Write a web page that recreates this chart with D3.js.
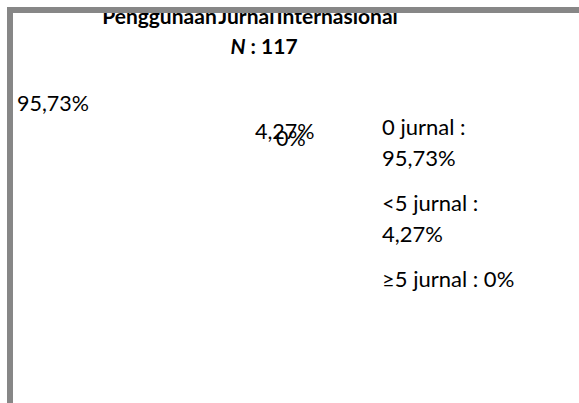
<!DOCTYPE html>
<html>
<head>
<meta charset="utf-8">
<script src="https://cdnjs.cloudflare.com/ajax/libs/d3/7.8.5/d3.min.js"></script>
<style>
  body { margin: 0; background: #fff; }
  text { font-family: Lato, "Open Sans", sans-serif; fill: #000; }
</style>
</head>
<body>
<div id="chart"></div>
<script>
// data
var categories = ["0 jurnal", "<5 jurnal", "\u22655 jurnal"];
var percents = [95.73, 4.27, 0];
var titleText = "Penggunaan Jurnal Internasional";
var nValue = 117;

var width = 579, height = 403;

var fmt = function(v) { return (v === 0 ? "0" : v.toFixed(2).replace(".", ",")) + "%"; };

var svg = d3.select("#chart").append("svg")
    .attr("width", width)
    .attr("height", height);

var data = categories.map(function(c, i) { return {cat: c, val: percents[i]}; });

// the pie itself has no visible fill in the original
var pie = d3.pie().sort(null).value(function(d) { return d.val; });
var arc = d3.arc().innerRadius(0).outerRadius(110);
var g = svg.append("g").attr("transform", "translate(190,250)");
g.selectAll("path")
    .data(pie(data))
    .enter().append("path")
    .attr("d", arc)
    .style("fill", "#fff")
    .style("stroke", "none");

// data labels
var labelPos = [[17, 111, "start"], [255, 139, "start"], [276, 146, "start"]];
svg.selectAll("text.lbl")
    .data(data)
    .enter().append("text")
    .attr("class", "lbl")
    .attr("x", function(d, i) { return labelPos[i][0]; })
    .attr("y", function(d, i) { return labelPos[i][1]; })
    .attr("text-anchor", function(d, i) { return labelPos[i][2]; })
    .style("font-size", "21.5px")
    .text(function(d) { return fmt(d.val); });

// legend
var legX = 382;
var legY = d3.scaleOrdinal().domain(categories).range([135, 211, 287]);
var leg = svg.selectAll("text.leg")
    .data(data)
    .enter().append("text")
    .attr("class", "leg")
    .attr("x", legX)
    .attr("y", function(d) { return legY(d.cat); })
    .style("font-size", "22px");
leg.each(function(d) {
    var t = d3.select(this);
    if (d.val > 0) {
        t.append("tspan").attr("x", legX).text(d.cat + " :");
        t.append("tspan").attr("x", legX).attr("dy", 31).text(fmt(d.val));
    } else {
        t.text(d.cat + " : " + fmt(d.val));
    }
});

// title
svg.append("text")
    .attr("x", 250)
    .attr("y", 24)
    .attr("text-anchor", "middle")
    .style("font-size", "21px")
    .style("font-weight", "bold")
    .style("word-spacing", "-3px")
    .text(titleText);

var nt = svg.append("text")
    .attr("x", 264)
    .attr("y", 54)
    .attr("text-anchor", "middle")
    .style("font-size", "21px")
    .style("font-weight", "bold");
nt.append("tspan").style("font-style", "italic").text("N");
nt.append("tspan").text(" : " + nValue);

// frame (drawn over the title, clipping its top)
svg.append("rect")
    .attr("x", 10)
    .attr("y", 10)
    .attr("width", 600)
    .attr("height", 420)
    .style("fill", "none")
    .style("stroke", "#878787")
    .style("stroke-width", 6);
</script>
</body>
</html>
